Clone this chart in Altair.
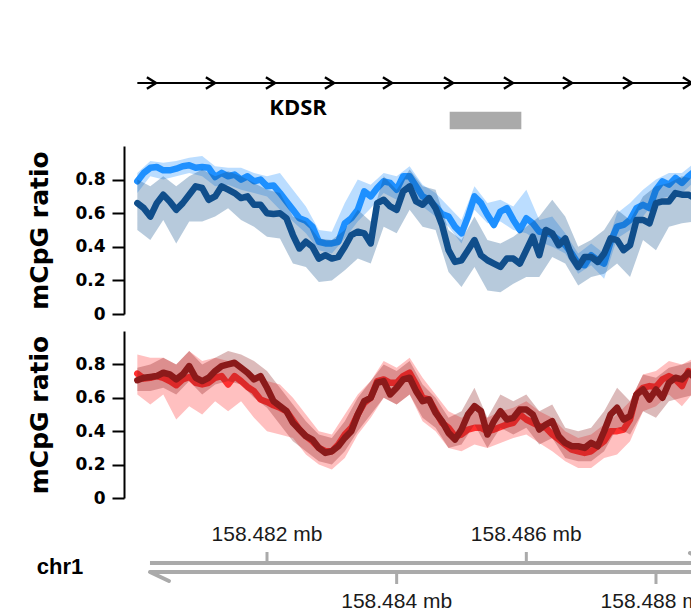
import altair as alt
import pandas as pd

# ---------------- data ----------------
START_BP = 158480000          # first methylation window (bp)
STEP_BP = 100                 # window step (bp)
N_LINE = 88
N_BAND = 45

LIGHT_BLUE = [0.79, 0.84, 0.87, 0.875, 0.855, 0.855, 0.865, 0.88, 0.885, 0.87,
              0.875, 0.87, 0.815, 0.84, 0.82, 0.83, 0.80, 0.82, 0.79, 0.80,
              0.76, 0.765, 0.72, 0.67, 0.62, 0.57, 0.555, 0.52, 0.43, 0.42,
              0.42, 0.43, 0.54, 0.57, 0.62, 0.73, 0.70, 0.75, 0.79, 0.78,
              0.74, 0.82, 0.82, 0.76, 0.70, 0.68, 0.64, 0.595, 0.58, 0.52,
              0.48, 0.58, 0.70, 0.66, 0.59, 0.53, 0.61, 0.63, 0.56, 0.50,
              0.57, 0.54, 0.49, 0.485, 0.47, 0.44, 0.41, 0.36, 0.30, 0.29,
              0.35, 0.32, 0.30, 0.43, 0.52, 0.53, 0.56, 0.63, 0.65, 0.63,
              0.74, 0.79, 0.77, 0.81, 0.78, 0.82, 0.85, 0.84]
DARK_BLUE = [0.66, 0.63, 0.58, 0.66, 0.71, 0.67, 0.62, 0.66, 0.71, 0.76,
             0.75, 0.68, 0.70, 0.76, 0.74, 0.72, 0.69, 0.70, 0.65, 0.65,
             0.60, 0.595, 0.60, 0.57, 0.47, 0.39, 0.43, 0.40, 0.33, 0.35,
             0.33, 0.34, 0.40, 0.47, 0.49, 0.48, 0.42, 0.66, 0.68, 0.64,
             0.62, 0.73, 0.76, 0.67, 0.65, 0.69, 0.63, 0.53, 0.38, 0.31,
             0.32, 0.38, 0.44, 0.35, 0.32, 0.30, 0.28, 0.33, 0.33, 0.30,
             0.38, 0.46, 0.35, 0.50, 0.48, 0.41, 0.45, 0.34, 0.28, 0.34,
             0.34, 0.31, 0.36, 0.45, 0.44, 0.38, 0.41, 0.56, 0.56, 0.54,
             0.66, 0.67, 0.67, 0.72, 0.71, 0.71, 0.69, 0.67]
BRIGHT_RED = [0.745, 0.715, 0.72, 0.73, 0.72, 0.70, 0.675, 0.71, 0.725, 0.69,
              0.68, 0.69, 0.72, 0.73, 0.68, 0.73, 0.70, 0.665, 0.64, 0.59,
              0.575, 0.555, 0.54, 0.52, 0.465, 0.41, 0.37, 0.34, 0.30, 0.28,
              0.28, 0.32, 0.38, 0.42, 0.50, 0.57, 0.60, 0.70, 0.71, 0.69,
              0.69, 0.73, 0.75, 0.68, 0.60, 0.59, 0.52, 0.45, 0.42, 0.37,
              0.38, 0.41, 0.42, 0.42, 0.40, 0.41, 0.425, 0.44, 0.45, 0.50,
              0.47, 0.45, 0.43, 0.42, 0.38, 0.35, 0.32, 0.29, 0.28, 0.27,
              0.28, 0.31, 0.34, 0.40, 0.40, 0.41, 0.47, 0.62, 0.66, 0.67,
              0.665, 0.71, 0.73, 0.71, 0.67, 0.76, 0.74, 0.70]
DARK_RED = [0.705, 0.72, 0.725, 0.73, 0.75, 0.74, 0.71, 0.74, 0.79, 0.72,
            0.70, 0.72, 0.76, 0.79, 0.80, 0.81, 0.78, 0.75, 0.71, 0.73,
            0.66, 0.58, 0.55, 0.52, 0.45, 0.41, 0.37, 0.35, 0.30, 0.27,
            0.28, 0.31, 0.36, 0.40, 0.50, 0.58, 0.60, 0.69, 0.70, 0.62,
            0.66, 0.71, 0.72, 0.64, 0.58, 0.59, 0.51, 0.46, 0.39, 0.35,
            0.41, 0.50, 0.55, 0.52, 0.38, 0.46, 0.52, 0.47, 0.48, 0.53,
            0.53, 0.50, 0.41, 0.44, 0.46, 0.37, 0.33, 0.31, 0.31, 0.30,
            0.33, 0.31, 0.40, 0.50, 0.54, 0.47, 0.49, 0.62, 0.65, 0.59,
            0.65, 0.60, 0.69, 0.72, 0.71, 0.75, 0.72, 0.69]

# confidence bands (every 200 bp)
LIGHT_BLUE_LO = [0.72, 0.82, 0.80, 0.82, 0.84, 0.82, 0.76, 0.77, 0.74, 0.72,
                 0.70, 0.62, 0.55, 0.48, 0.38, 0.36, 0.45, 0.55, 0.63, 0.72,
                 0.68, 0.76, 0.64, 0.58, 0.52, 0.42, 0.62, 0.54, 0.55, 0.50,
                 0.48, 0.43, 0.40, 0.36, 0.24, 0.29, 0.21, 0.45, 0.50, 0.58,
                 0.68, 0.70, 0.72, 0.79, 0.78]
LIGHT_BLUE_HI = [0.84, 0.91, 0.90, 0.91, 0.93, 0.94, 0.88, 0.87, 0.87, 0.84,
                 0.82, 0.84, 0.74, 0.64, 0.50, 0.49, 0.66, 0.80, 0.77, 0.84,
                 0.82, 0.88, 0.77, 0.72, 0.64, 0.56, 0.76, 0.66, 0.68, 0.64,
                 0.74, 0.56, 0.58, 0.48, 0.36, 0.42, 0.36, 0.60, 0.66, 0.74,
                 0.80, 0.84, 0.84, 0.90, 0.89]
DARK_BLUE_LO = [0.50, 0.44, 0.56, 0.42, 0.55, 0.55, 0.58, 0.63, 0.56, 0.52,
                0.46, 0.45, 0.30, 0.28, 0.19, 0.20, 0.26, 0.33, 0.30, 0.52,
                0.48, 0.62, 0.52, 0.50, 0.25, 0.16, 0.28, 0.14, 0.13, 0.18,
                0.22, 0.22, 0.34, 0.30, 0.17, 0.22, 0.24, 0.30, 0.22, 0.44,
                0.38, 0.52, 0.54, 0.55, 0.52]
DARK_BLUE_HI = [0.80, 0.76, 0.82, 0.76, 0.82, 0.86, 0.82, 0.85, 0.82, 0.78,
                0.74, 0.72, 0.58, 0.55, 0.45, 0.44, 0.50, 0.62, 0.55, 0.82,
                0.74, 0.86, 0.76, 0.74, 0.50, 0.44, 0.58, 0.44, 0.42, 0.46,
                0.52, 0.58, 0.68, 0.58, 0.40, 0.44, 0.50, 0.62, 0.56, 0.70,
                0.76, 0.78, 0.82, 0.80, 0.78]
BRIGHT_RED_LO = [0.62, 0.56, 0.62, 0.47, 0.55, 0.50, 0.58, 0.52, 0.58, 0.48,
                 0.40, 0.38, 0.36, 0.26, 0.20, 0.17, 0.24, 0.38, 0.48, 0.60,
                 0.56, 0.62, 0.46, 0.40, 0.30, 0.28, 0.32, 0.30, 0.33, 0.36,
                 0.38, 0.33, 0.28, 0.22, 0.18, 0.18, 0.24, 0.26, 0.34, 0.52,
                 0.55, 0.62, 0.55, 0.64, 0.60]
BRIGHT_RED_HI = [0.86, 0.84, 0.84, 0.80, 0.88, 0.82, 0.84, 0.82, 0.80, 0.74,
                 0.70, 0.68, 0.60, 0.50, 0.40, 0.38, 0.50, 0.62, 0.70, 0.82,
                 0.78, 0.84, 0.72, 0.62, 0.52, 0.48, 0.52, 0.48, 0.52, 0.54,
                 0.58, 0.52, 0.48, 0.40, 0.36, 0.38, 0.44, 0.50, 0.58, 0.74,
                 0.76, 0.82, 0.80, 0.84, 0.80]
DARK_RED_LO = [0.64, 0.64, 0.66, 0.62, 0.70, 0.62, 0.68, 0.70, 0.68, 0.60,
               0.54, 0.44, 0.34, 0.28, 0.22, 0.20, 0.28, 0.40, 0.50, 0.60,
               0.56, 0.62, 0.48, 0.42, 0.30, 0.32, 0.44, 0.30, 0.42, 0.38,
               0.42, 0.32, 0.36, 0.24, 0.22, 0.22, 0.28, 0.42, 0.38, 0.52,
               0.48, 0.58, 0.60, 0.62, 0.58]
DARK_RED_HI = [0.78, 0.80, 0.84, 0.80, 0.88, 0.80, 0.84, 0.88, 0.86, 0.82,
               0.76, 0.66, 0.56, 0.46, 0.38, 0.36, 0.46, 0.60, 0.70, 0.80,
               0.76, 0.82, 0.68, 0.60, 0.48, 0.52, 0.66, 0.48, 0.62, 0.58,
               0.62, 0.52, 0.56, 0.42, 0.40, 0.42, 0.52, 0.66, 0.58, 0.74,
               0.72, 0.78, 0.80, 0.82, 0.78]

# gene track (Mb)
GENE_START, GENE_END = 158.48000, 158.48920
GENE_NAME = "KDSR"
GENE_LABEL_POS = 158.48248
STRAND_ARROWS = [158.480288, 158.481198, 158.482124, 158.483034, 158.483929,
                 158.484870, 158.485795, 158.486705, 158.487631, 158.488556]
FEATURE_START, FEATURE_END = 158.484818, 158.485923

# genome axis (Mb)
AXIS_START, AXIS_END = 158.480195, 158.488818
TICKS_UP = [158.482, 158.486]
TICKS_UP_LABELS = ["158.482 mb", "158.486 mb"]
TICKS_DOWN = [158.484, 158.488]
TICKS_DOWN_LABELS = ["158.484 mb", "158.488 mb"]
CHROM = "chr1"

Y_TICKS = [0, 0.2, 0.4, 0.6, 0.8]

# ---------------- tables ----------------
line_x = [(START_BP + STEP_BP * k) / 1e6 for k in range(N_LINE)]
band_x = [(START_BP + 2 * STEP_BP * k) / 1e6 for k in range(N_BAND)]


def line_df(vals):
    return pd.DataFrame({"x": line_x, "v": vals})


def band_df(lo, hi):
    return pd.DataFrame({"x": band_x, "lo": lo, "hi": hi})


W = 567
XS = alt.Scale(domain=[158.4797942, 158.4885402], nice=False, zero=False)
X = alt.X("x:Q", scale=XS, axis=None)
YS = alt.Scale(domain=[0, 1], nice=False, zero=True)

YAX = alt.Axis(values=Y_TICKS,
               labelExpr="datum.value == 0 ? '0' : format(datum.value, '.1f')",
               domainColor="black", domainWidth=2, tickColor="black",
               tickWidth=2, tickSize=12, labelFont="DejaVu Sans",
               labelFontWeight="bold", labelFontSize=17, labelColor="black",
               labelPadding=7, title="mCpG ratio", titleFont="DejaVu Sans",
               titleFontSize=25, titleFontWeight="bold", titleColor="black",
               titlePadding=22, grid=False)


def methyl_panel(series, height):
    layers = []
    for vals, lo, hi, color in series:
        layers.append(
            alt.Chart(band_df(lo, hi)).mark_area(color=color, opacity=0.3, clip=True)
            .encode(x=X, y=alt.Y("lo:Q", scale=YS, axis=YAX), y2="hi:Q"))
        layers.append(
            alt.Chart(line_df(vals)).mark_line(color=color, strokeWidth=6.5,
                                               strokeCap="round", strokeJoin="round",
                                               clip=True)
            .encode(x=X, y=alt.Y("v:Q", scale=YS, axis=YAX)))
    return alt.layer(*layers).properties(width=W, height=height)


blue = methyl_panel([
    (LIGHT_BLUE, LIGHT_BLUE_LO, LIGHT_BLUE_HI, "#1E90FF"),
    (DARK_BLUE, DARK_BLUE_LO, DARK_BLUE_HI, "#104E8B"),
], 168)
red = methyl_panel([
    (BRIGHT_RED, BRIGHT_RED_LO, BRIGHT_RED_HI, "#FF3030"),
    (DARK_RED, DARK_RED_LO, DARK_RED_HI, "#8B1A1A"),
], 167)

# gene track
gene_line = alt.Chart(pd.DataFrame({"s": [GENE_START], "e": [GENE_END]})).mark_rule(
    color="black", strokeWidth=2, clip=True).encode(
    x=alt.X("s:Q", scale=XS, axis=None), x2="e:Q", y=alt.value(75))
arrows = alt.Chart(pd.DataFrame({"x": STRAND_ARROWS})).mark_point(
    shape="M-1.6,-1L0,0L-1.6,1", filled=False, stroke="black", strokeWidth=2.5,
    size=130, opacity=1, clip=True).encode(x=X, y=alt.value(75))
gene_label = alt.Chart(pd.DataFrame({"x": [GENE_LABEL_POS], "t": [GENE_NAME]})).mark_text(
    font="Open Sans", fontWeight="bold", fontSize=22, color="black",
    baseline="middle").encode(x=X, y=alt.value(100), text="t:N")
feature = alt.Chart(pd.DataFrame({"s": [FEATURE_START], "e": [FEATURE_END]})).mark_rect(
    color="#AAAAAA").encode(x=alt.X("s:Q", scale=XS, axis=None), x2="e:Q",
                            y=alt.value(103.7), y2=alt.value(121.3))
gene = alt.layer(gene_line, arrows, gene_label, feature).properties(width=W, height=121)

# genome axis
AX_COL = "#AAAAAA"
axis_df = pd.DataFrame({"s": [AXIS_START], "e": [AXIS_END]})
upper_line = alt.Chart(axis_df).mark_rule(color=AX_COL, strokeWidth=4, clip=True).encode(
    x=alt.X("s:Q", scale=XS, axis=None), x2="e:Q", y=alt.value(48))
lower_line = alt.Chart(axis_df).mark_rule(color=AX_COL, strokeWidth=4, clip=True).encode(
    x=alt.X("s:Q", scale=XS, axis=None), x2="e:Q", y=alt.value(57))
barb_left = alt.Chart(pd.DataFrame({"s": [AXIS_START], "e": [158.480488]})).mark_rule(
    color=AX_COL, strokeWidth=4, strokeCap="round", clip=True).encode(
    x=alt.X("s:Q", scale=XS, axis=None), x2="e:Q", y=alt.value(57), y2=alt.value(66))
barb_right = alt.Chart(pd.DataFrame({"s": [158.488525], "e": [AXIS_END]})).mark_rule(
    color=AX_COL, strokeWidth=4, strokeCap="round", clip=True).encode(
    x=alt.X("s:Q", scale=XS, axis=None), x2="e:Q", y=alt.value(38), y2=alt.value(48))
up_df = pd.DataFrame({"x": TICKS_UP, "t": TICKS_UP_LABELS})
dn_df = pd.DataFrame({"x": TICKS_DOWN, "t": TICKS_DOWN_LABELS})
up_ticks = alt.Chart(up_df).mark_rule(color=AX_COL, strokeWidth=3, clip=True).encode(
    x=X, y=alt.value(37), y2=alt.value(48))
dn_ticks = alt.Chart(dn_df).mark_rule(color=AX_COL, strokeWidth=3, clip=True).encode(
    x=X, y=alt.value(57), y2=alt.value(69))
up_text = alt.Chart(up_df).mark_text(font="Liberation Sans", fontSize=21,
                                     color="#1a1a1a", baseline="middle", clip=True).encode(
    x=X, y=alt.value(20), text="t:N")
dn_text = alt.Chart(dn_df).mark_text(font="Liberation Sans", fontSize=21,
                                     color="#1a1a1a", baseline="middle", clip=True).encode(
    x=X, y=alt.value(87), text="t:N")
chrom = alt.Chart(pd.DataFrame({"t": [CHROM]})).mark_text(
    font="Liberation Sans", fontWeight="bold", fontSize=22, color="black",
    baseline="middle", align="center").encode(
    x=alt.value(-64), y=alt.value(52), text="t:N")
gaxis = alt.layer(upper_line, lower_line, barb_left, barb_right, up_ticks, dn_ticks,
                  up_text, dn_text, chrom).properties(width=W, height=98)

chart = alt.vconcat(gene, blue, red, gaxis, spacing=17, bounds="flush").properties(
    padding={"left": 19, "top": 0, "right": 0, "bottom": 0}
).configure_view(stroke=None)

chart.save("out.html", embed_options={"renderer": "svg", "actions": False})
